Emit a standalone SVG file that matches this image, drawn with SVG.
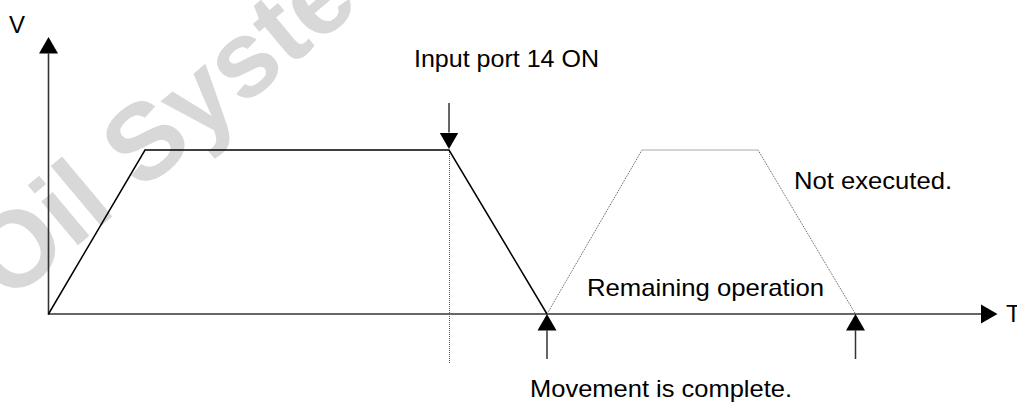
<svg xmlns="http://www.w3.org/2000/svg" width="1017" height="403" viewBox="0 0 1017 403">
  <style>
    .lbl { font-family: "Liberation Sans", Arial, sans-serif; font-size: 24px; fill: #000; }
    .wm { font-family: "Liberation Sans", Arial, sans-serif; font-size: 108px; font-weight: bold; fill: #d8d8d8; }
    .axis { stroke: #333; stroke-width: 1.6; fill: none; }
    .prof { stroke: #000; stroke-width: 1.5; fill: none; stroke-linejoin: miter; }
    .dot { stroke: #555; stroke-width: 1; fill: none; stroke-dasharray: 1 1; }
    .arr { stroke: #333; stroke-width: 1.5; fill: none; }
  </style>
  <defs>
    <marker id="ah" markerUnits="userSpaceOnUse" markerWidth="17" markerHeight="20" refX="0" refY="10" orient="auto">
      <path d="M0,0.5 L16.5,10 L0,19.5 Z" fill="#000"/>
    </marker>
  </defs>
  <rect width="1017" height="403" fill="#fff"/>
  <g id="watermark">
    <text class="wm" transform="translate(8,304) rotate(-40)">Oil Syste</text>
  </g>
  <g id="connectors">
    <line class="axis" x1="48.5" y1="315" x2="48.5" y2="53.5" marker-end="url(#ah)"/>
    <line class="axis" x1="48" y1="314" x2="981" y2="314" marker-end="url(#ah)"/>
    <line class="dot" x1="449.5" y1="150" x2="449.5" y2="363"/>
    <polyline class="prof" points="48.5,314 145,150 449,150 547,314"/>
    <polyline class="dot" points="547,314 642,150 758,150 855.5,314"/>
    <line class="arr" x1="449" y1="103" x2="449" y2="132.5" marker-end="url(#ah)"/>
    <line class="arr" x1="547" y1="359" x2="547" y2="330.5" marker-end="url(#ah)"/>
    <line class="arr" x1="855.5" y1="359" x2="855.5" y2="330.5" marker-end="url(#ah)"/>
  </g>
  <g id="labels">
    <text class="lbl" x="9" y="33">V</text>
    <text class="lbl" x="1006" y="322">T</text>
    <text class="lbl" x="414" y="67" textLength="185" lengthAdjust="spacingAndGlyphs">Input port 14 ON</text>
    <text class="lbl" x="794" y="189" textLength="158" lengthAdjust="spacingAndGlyphs">Not executed.</text>
    <text class="lbl" x="587" y="296" textLength="237" lengthAdjust="spacingAndGlyphs">Remaining operation</text>
    <text class="lbl" x="530" y="397" textLength="262" lengthAdjust="spacingAndGlyphs">Movement is complete.</text>
  </g>
</svg>
